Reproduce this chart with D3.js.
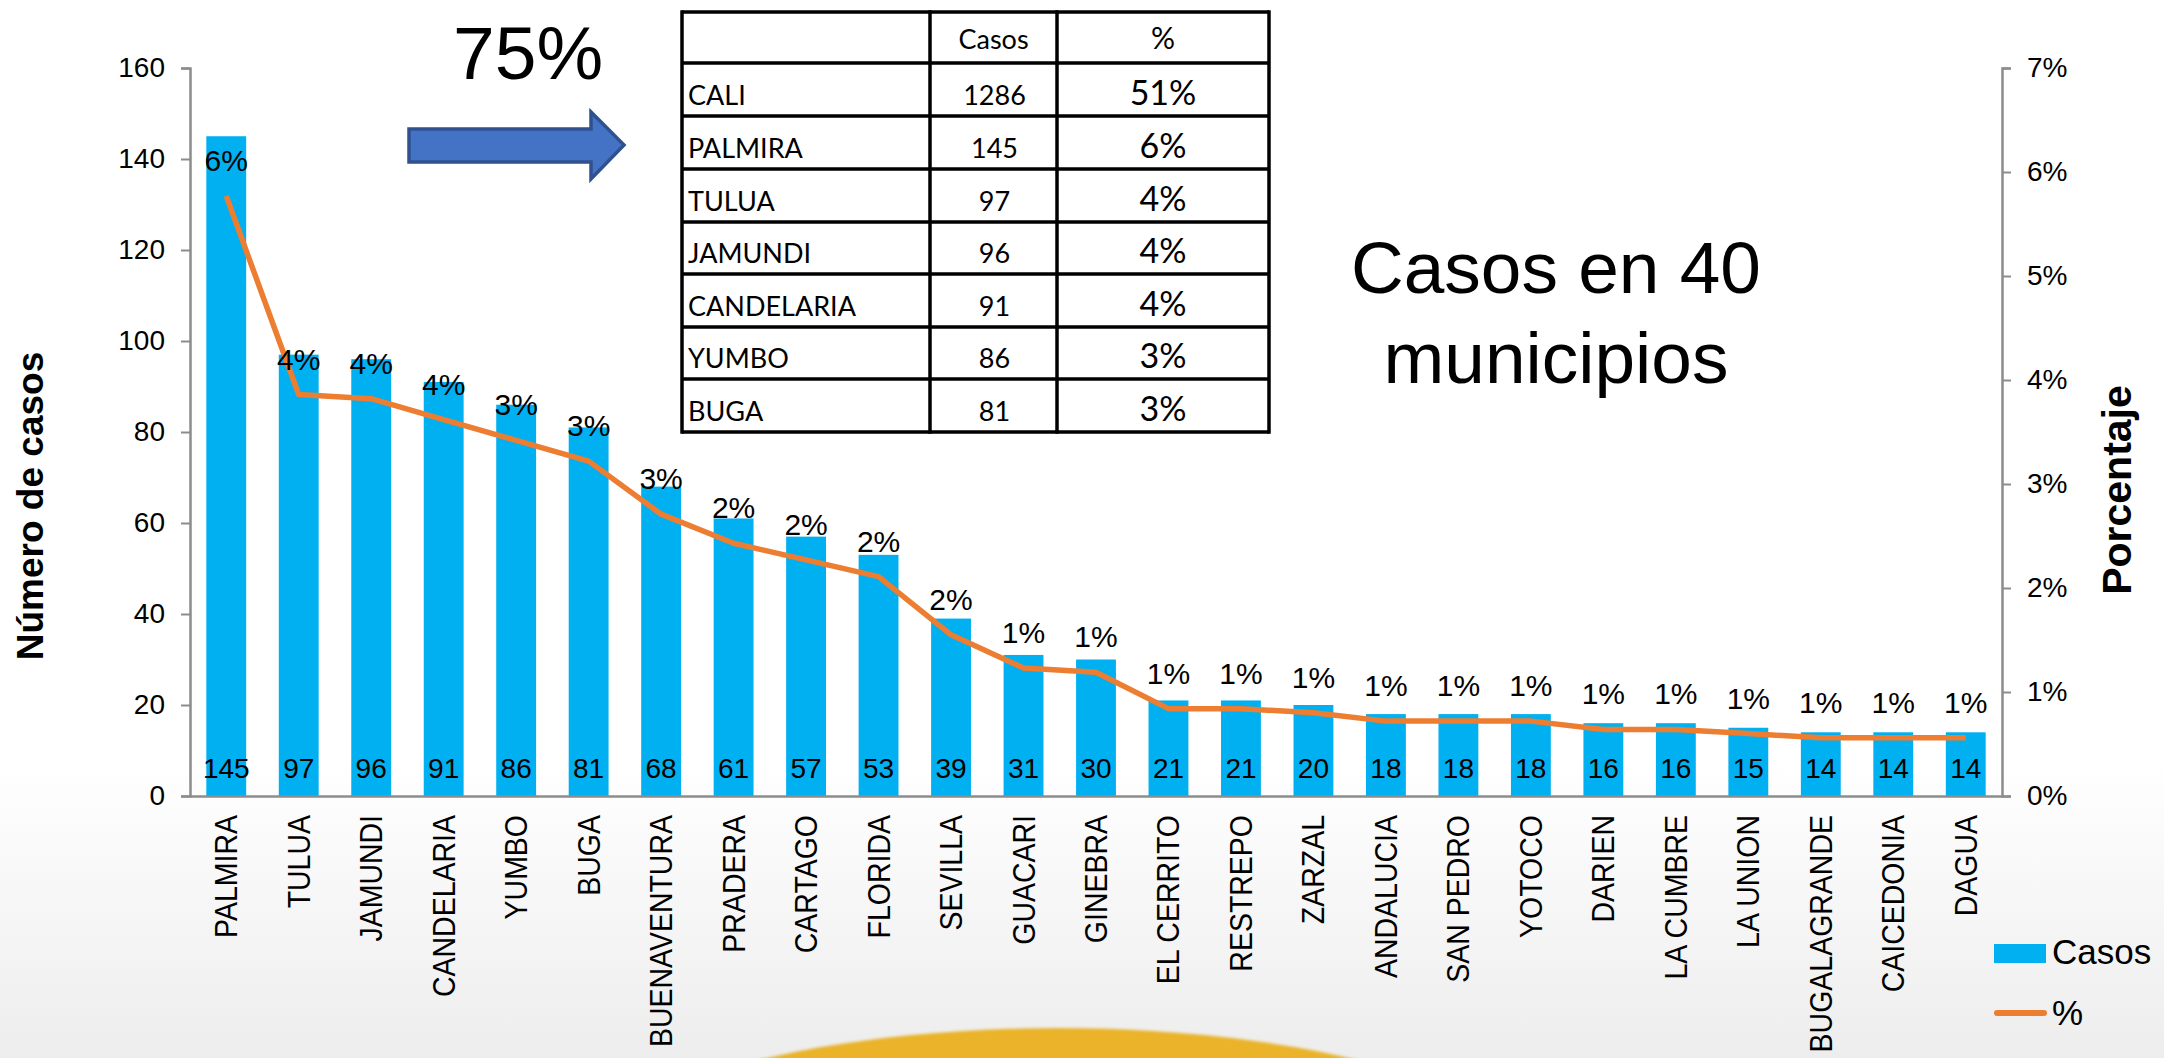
<!DOCTYPE html>
<html>
<head>
<meta charset="utf-8">
<script src="https://cdnjs.cloudflare.com/ajax/libs/d3/7.8.5/d3.min.js"></script>
<style>
  body { margin: 0; background: #fff; }
  svg text { font-family: 'Liberation Sans', Arial, sans-serif; fill: #000; }
  .tabla text { font-family: Lato, 'Open Sans', sans-serif; }
</style>
</head>
<body>
<svg id="chart" width="2164" height="1058"></svg>
<script>
/* global d3 */
const municipios = ['PALMIRA', 'TULUA', 'JAMUNDI', 'CANDELARIA', 'YUMBO', 'BUGA', 'BUENAVENTURA',
  'PRADERA', 'CARTAGO', 'FLORIDA', 'SEVILLA', 'GUACARI', 'GINEBRA', 'EL CERRITO', 'RESTREPO',
  'ZARZAL', 'ANDALUCIA', 'SAN PEDRO', 'YOTOCO', 'DARIEN', 'LA CUMBRE', 'LA UNION',
  'BUGALAGRANDE', 'CAICEDONIA', 'DAGUA']
const casos = [145, 97, 96, 91, 86, 81, 68, 61, 57, 53, 39, 31, 30, 21, 21, 20, 18, 18, 18, 16, 16, 15, 14, 14, 14]
// % (right axis)
const porcentaje = [5.77, 3.86, 3.82, 3.62, 3.42, 3.22, 2.71, 2.43, 2.27, 2.11, 1.55, 1.23, 1.19,
  0.84, 0.84, 0.80, 0.72, 0.72, 0.72, 0.64, 0.64, 0.60, 0.56, 0.56, 0.56]
const casosTicks = [0, 20, 40, 60, 80, 100, 120, 140, 160]
const pctTicks = [0, 1, 2, 3, 4, 5, 6, 7]

const tablaHeader = ['', 'Casos', '%']
const tablaMunicipios = ['CALI', 'PALMIRA', 'TULUA', 'JAMUNDI', 'CANDELARIA', 'YUMBO', 'BUGA']
const tablaCasos = [1286, 145, 97, 96, 91, 86, 81]
const tablaPct = ['51%', '6%', '4%', '4%', '4%', '3%', '3%']

const blue = '#00b0f0'
const orange = '#ed7d31'
const axisGray = '#8c8c8c'

const svg = d3.select('#chart')
const width = +svg.attr('width')
const height = +svg.attr('height')
const margin = { left: 190, right: 162, top: 68, bottom: 262 }
const innerWidth = width - margin.left - margin.right
const innerHeight = height - margin.top - margin.bottom

// background: soft grey fade at the bottom and the gold arc
const defs = svg.append('defs')
const grad = defs.append('linearGradient')
  .attr('id', 'bg').attr('x1', 0).attr('y1', 0).attr('x2', 0).attr('y2', 1)
grad.append('stop').attr('offset', '0.72').attr('stop-color', '#ffffff')
grad.append('stop').attr('offset', '1').attr('stop-color', '#ededed')
svg.append('rect').attr('width', width).attr('height', height).attr('fill', 'url(#bg)')
defs.append('filter').attr('id', 'soft')
  .append('feGaussianBlur').attr('stdDeviation', 1.5)
svg.append('ellipse')
  .attr('cx', 1058).attr('cy', 1192).attr('rx', 505).attr('ry', 164)
  .attr('fill', '#eab32c')
  .attr('filter', 'url(#soft)')

const g = svg.append('g')
  .attr('transform', `translate(${margin.left},${margin.top})`)

const x = d3.scaleBand()
  .domain(municipios)
  .range([0, innerWidth])
  .paddingInner(0.45)
  .paddingOuter(0.225)

const y = d3.scaleLinear()
  .domain([0, 160])
  .range([innerHeight, 0])

const yPct = d3.scaleLinear()
  .domain([0, 7])
  .range([innerHeight, 0])

// bars
g.selectAll('.bar').data(municipios)
  .enter().append('rect')
  .attr('class', 'bar')
  .attr('x', d => x(d))
  .attr('y', (d, i) => y(casos[i]))
  .attr('width', x.bandwidth())
  .attr('height', (d, i) => innerHeight - y(casos[i]))
  .attr('fill', blue)

// case counts at the foot of each bar
g.selectAll('.val').data(municipios)
  .enter().append('text')
  .attr('class', 'val')
  .attr('x', d => x(d) + x.bandwidth() / 2)
  .attr('y', innerHeight - 18)
  .attr('text-anchor', 'middle')
  .style('font-size', '28px')
  .text((d, i) => casos[i])

// percentage line
const line = d3.line()
  .x(d => x(d) + x.bandwidth() / 2)
  .y((d, i) => yPct(porcentaje[i]))
g.append('path')
  .datum(municipios)
  .attr('d', line)
  .attr('fill', 'none')
  .attr('stroke', orange)
  .attr('stroke-width', 5.5)
  .attr('stroke-linejoin', 'round')

g.selectAll('.pct').data(municipios)
  .enter().append('text')
  .attr('class', 'pct')
  .attr('x', d => x(d) + x.bandwidth() / 2)
  .attr('y', (d, i) => yPct(porcentaje[i]) - 25)
  .attr('text-anchor', 'middle')
  .style('font-size', '30px')
  .text((d, i) => d3.format('.0f')(porcentaje[i]) + '%')

// axes
const yAxisG = g.append('g')
  .call(d3.axisLeft(y).tickValues(casosTicks).tickSize(9).tickPadding(16))
const yPctAxisG = g.append('g')
  .attr('transform', `translate(${innerWidth},0)`)
  .call(d3.axisRight(yPct).tickValues(pctTicks).tickSize(9).tickPadding(16).tickFormat(d => d + '%'))
const xAxisG = g.append('g')
  .attr('transform', `translate(0,${innerHeight})`)
  .call(d3.axisBottom(x).tickSize(0).tickSizeOuter(0))

svg.selectAll('.domain').attr('stroke', axisGray).attr('stroke-width', 2.5)
svg.selectAll('.tick line').attr('stroke', axisGray).attr('stroke-width', 2)
yAxisG.selectAll('.tick text').style('font-size', '28px').attr('fill', '#000')
yPctAxisG.selectAll('.tick text').style('font-size', '28px').attr('fill', '#000')
xAxisG.selectAll('.tick text')
  .style('font-size', '28.5px')
  .attr('fill', '#000')
  .attr('text-anchor', 'end')
  .attr('transform', 'scale(1.1,1) rotate(-90)')
  .attr('x', -19)
  .attr('y', 0)
  .attr('dy', '0.35em')

// axis titles
svg.append('text')
  .attr('transform', 'translate(43,506) rotate(-90)')
  .attr('text-anchor', 'middle')
  .style('font-size', '37px')
  .style('font-weight', 'bold')
  .text('Número de casos')
svg.append('text')
  .attr('transform', 'translate(2131,490) rotate(-90)')
  .attr('text-anchor', 'middle')
  .style('font-size', '41px')
  .style('font-weight', 'bold')
  .text('Porcentaje')

// legend
const legend = svg.append('g').attr('transform', 'translate(1994,944)')
legend.append('rect').attr('width', 52).attr('height', 19).attr('fill', blue)
legend.append('text').attr('x', 58).attr('y', 20).style('font-size', '35px').text('Casos')
legend.append('line')
  .attr('x1', 3).attr('x2', 50).attr('y1', 69).attr('y2', 69)
  .attr('stroke', orange).attr('stroke-width', 6).attr('stroke-linecap', 'round')
legend.append('text').attr('x', 58).attr('y', 81).style('font-size', '35px').text('%')

// annotations
svg.append('text')
  .attr('x', 453).attr('y', 79)
  .style('font-size', '75px')
  .text('75%')

const arrow = [[409, 129], [591, 129], [591, 112], [624, 145], [591, 179], [591, 162], [409, 162]]
svg.append('path')
  .attr('d', d3.line()(arrow) + 'Z')
  .attr('fill', '#4472c4')
  .attr('stroke', '#2f528f')
  .attr('stroke-width', 3.5)

const nota = svg.append('text')
  .attr('text-anchor', 'middle')
  .style('font-size', '73px')
nota.append('tspan').attr('x', 1556).attr('y', 293).text('Casos en 40')
nota.append('tspan').attr('x', 1556).attr('y', 383).text('municipios')

// summary table
const cols = [682, 930, 1057, 1269]
const rows = [12, 63, 116, 169, 222, 274, 327, 379, 432]
const tabla = svg.append('g').attr('class', 'tabla')
tabla.append('rect')
  .attr('x', cols[0]).attr('y', rows[0])
  .attr('width', cols[3] - cols[0]).attr('height', rows[8] - rows[0])
  .attr('fill', '#fff')
tabla.selectAll('.hl').data(rows)
  .enter().append('line')
  .attr('x1', cols[0]).attr('x2', cols[3])
  .attr('y1', d => d).attr('y2', d => d)
  .attr('stroke', '#000').attr('stroke-width', 3.5)
tabla.selectAll('.vl').data(cols)
  .enter().append('line')
  .attr('x1', d => d).attr('x2', d => d)
  .attr('y1', rows[0] - 1.75).attr('y2', rows[8] + 1.75)
  .attr('stroke', '#000').attr('stroke-width', 3.5)

tabla.append('text')
  .attr('x', (cols[1] + cols[2]) / 2).attr('y', rows[1] - 14)
  .attr('text-anchor', 'middle').style('font-size', '27px')
  .text(tablaHeader[1])
tabla.append('text')
  .attr('x', (cols[2] + cols[3]) / 2).attr('y', rows[1] - 14)
  .attr('text-anchor', 'middle').style('font-size', '30px')
  .text(tablaHeader[2])

tablaMunicipios.forEach((m, i) => {
  const base = rows[i + 2] - 11
  tabla.append('text')
    .attr('x', cols[0] + 6).attr('y', base)
    .style('font-size', '27px')
    .text(m)
  tabla.append('text')
    .attr('x', (cols[1] + cols[2]) / 2 + 1).attr('y', base)
    .attr('text-anchor', 'middle').style('font-size', '27px')
    .text(tablaCasos[i])
  tabla.append('text')
    .attr('x', (cols[2] + cols[3]) / 2).attr('y', base)
    .attr('text-anchor', 'middle').style('font-size', '34px')
    .text(tablaPct[i])
})
</script>
</body>
</html>
